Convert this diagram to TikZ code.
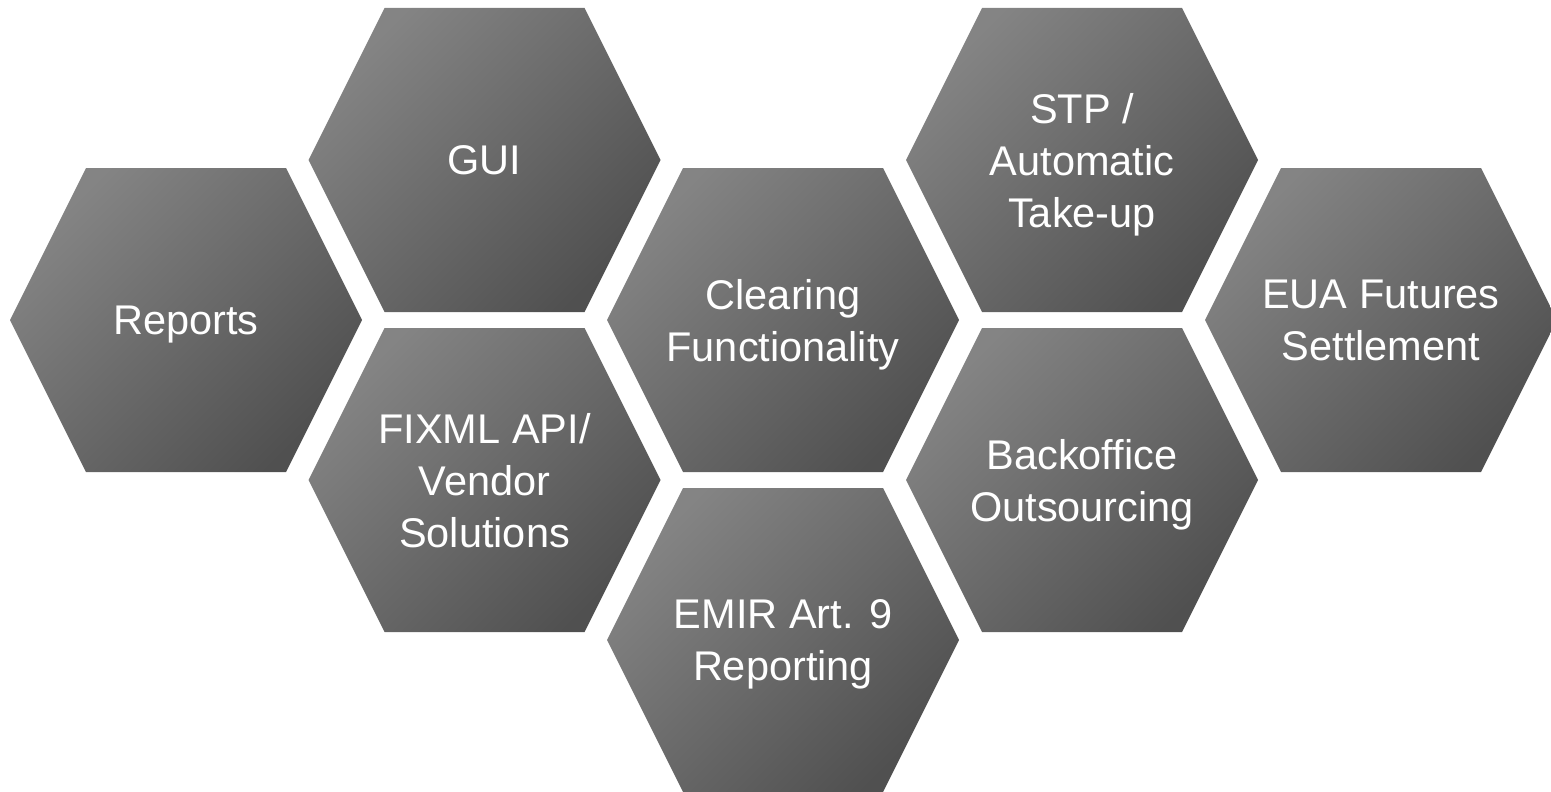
\documentclass[tikz,border=0pt]{standalone}
\usepackage{fontspec}
\setmainfont{Liberation Sans}
\definecolor{hexlight}{RGB}{132,132,132}
\definecolor{hexdark}{RGB}{80,80,80}
\tikzset{
  hexfill/.style={top color=hexlight,bottom color=hexdark,shading angle=45,draw=none},
  hexlabel/.style={text=white,align=center,font=\fontsize{41.5}{52}\selectfont,inner sep=0pt,text depth=0pt}
}
\begin{document}
\begin{tikzpicture}[x=1pt,y=-1pt]
\useasboundingbox (0,0) rectangle (1551,792);
\begin{scope}
\clip (0,0) rectangle (1551,792);
\foreach \cx/\cy/\nm/\txt in {
  186/320/reports/{Reports},
  484.5/160/gui/{GUI},
  484.5/480/fixml/{FIXML API/\\Vendor\\Solutions},
  783/320/clearing/{Clearing\\Functionality},
  783/640/emir/{EMIR Art. 9\\Reporting},
  1082/160/stp/{STP /\\Automatic\\Take-up},
  1082/480/backoffice/{Backoffice\\Outsourcing},
  1381/320/eua/{EUA Futures\\Settlement}}{
  \shade[hexfill] (\cx-176,\cy) -- (\cx-100,\cy-152) -- (\cx+100,\cy-152)
     -- (\cx+176,\cy) -- (\cx+100,\cy+152) -- (\cx-100,\cy+152) -- cycle;
  \node[hexlabel] (\nm) at (\cx,\cy) {\txt};
}
\end{scope}
\end{tikzpicture}
\end{document}
